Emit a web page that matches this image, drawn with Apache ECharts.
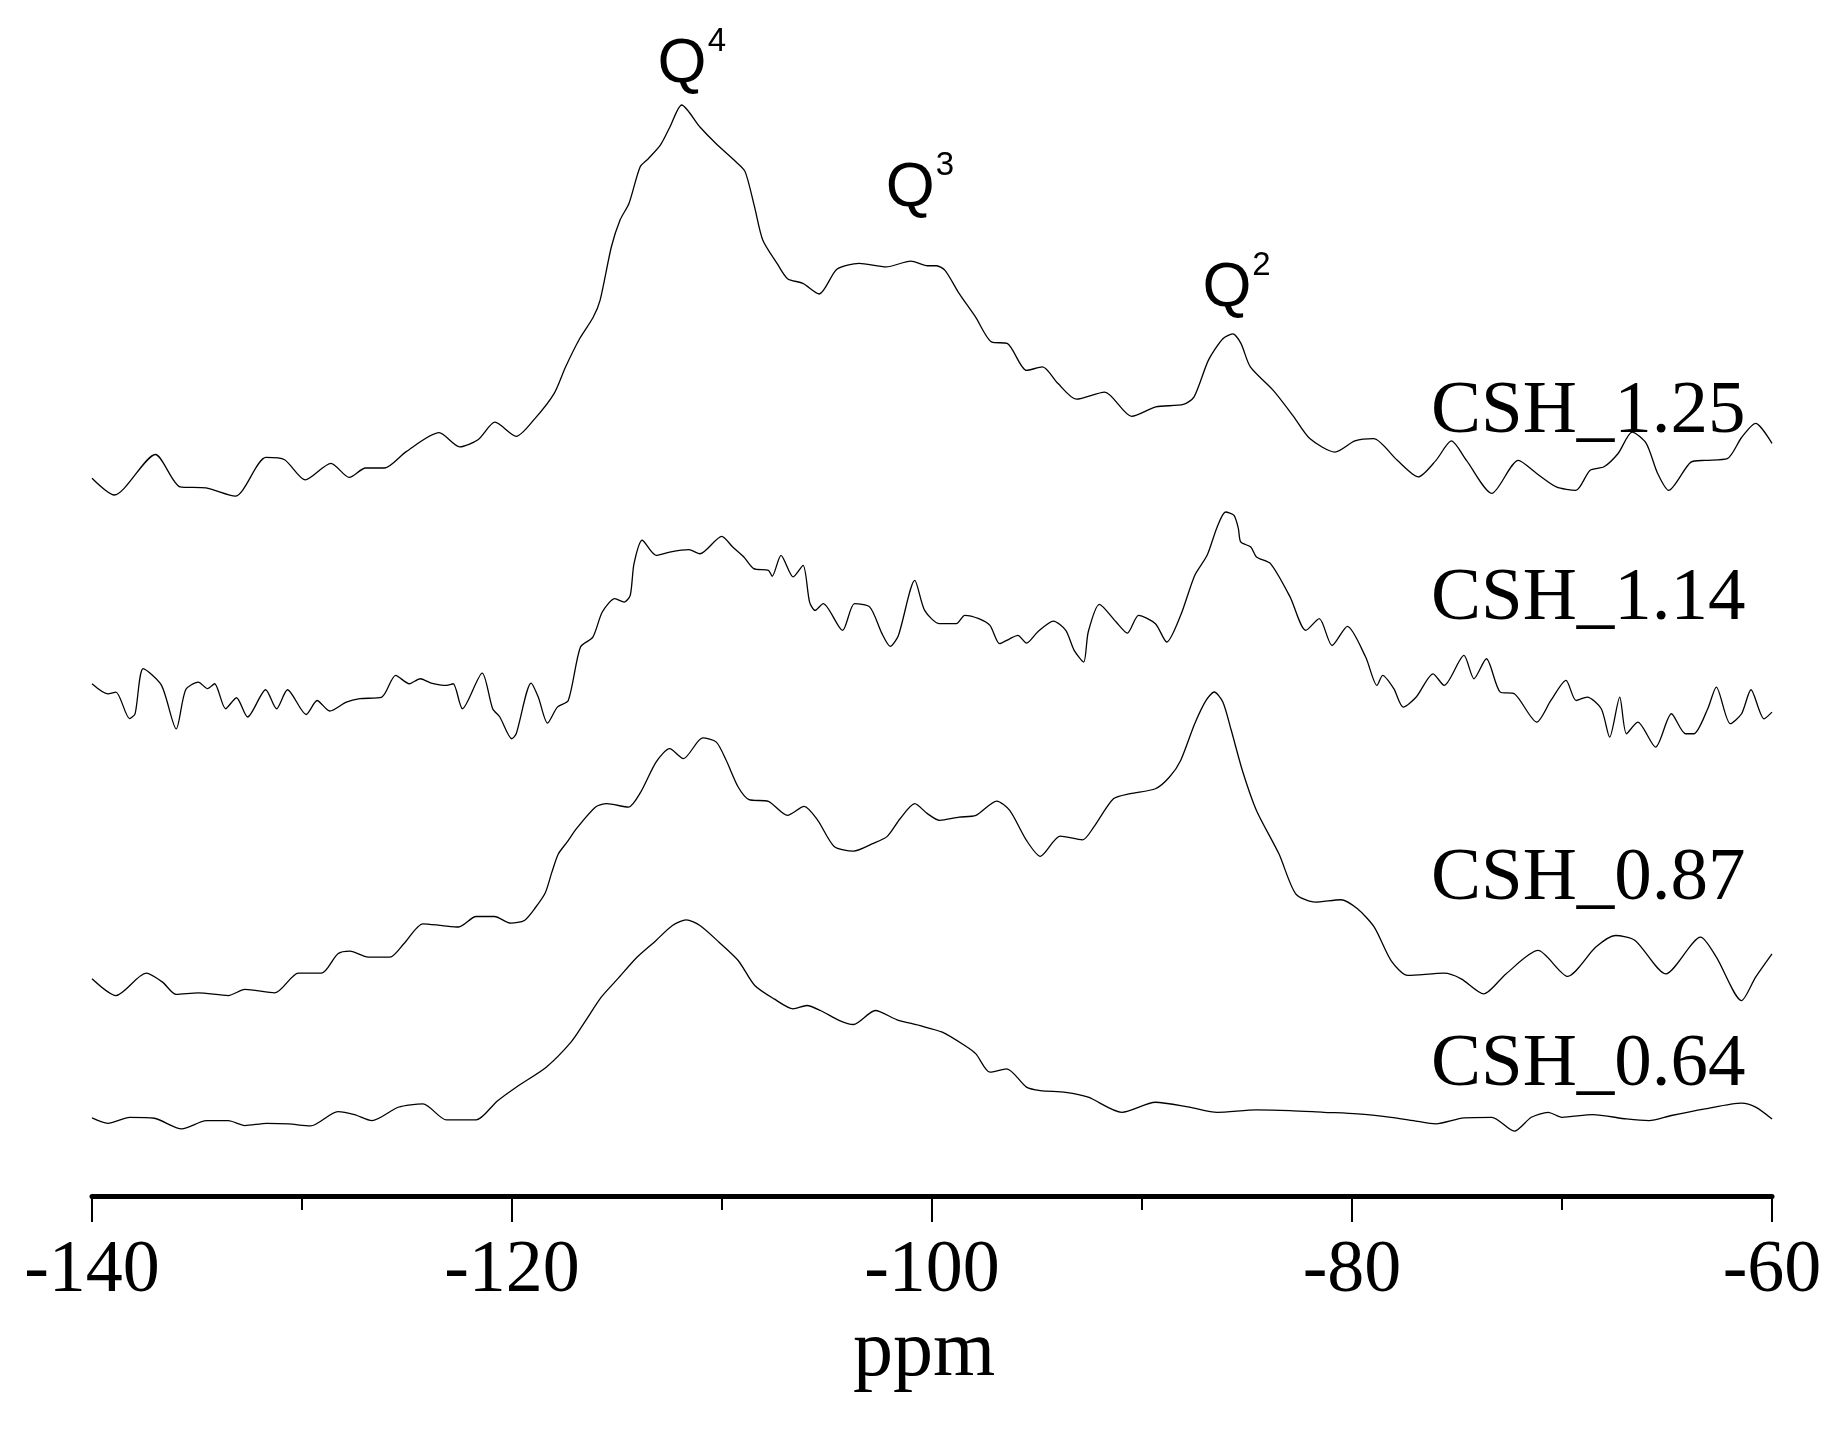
<!DOCTYPE html>
<html>
<head>
<meta charset="utf-8">
<title>29Si NMR spectra</title>
<script src="https://cdn.jsdelivr.net/npm/echarts@6/dist/echarts.min.js"></script>
<style>
html,body{margin:0;padding:0;background:#fff;}
#chart{width:1843px;height:1430px;}
</style>
</head>
<body>
<div id="chart"></div>
<script>
// x axis ticks (ppm)
const xTicks = { min: -140, max: -60, interval: 20 };

// vertical offsets of the stacked spectra
const seriesNames = ['CSH_1.25', 'CSH_1.14', 'CSH_0.87', 'CSH_0.64'];
const seriesOffsets = [59, 41, 17, 6];

// spectra: [ppm, intensity above own baseline]
const csh125 = [[-140.0,1.01],[-138.94,-0.39],[-136.98,3.00],[-135.80,0.29],[-134.57,0.20],[-133.18,-0.49],[-131.72,2.75],[-130.83,2.56],[-129.85,0.88],[-128.62,2.26],[-127.75,1.08],[-126.97,1.87],[-126.07,1.87],[-125.04,3.24],[-123.47,4.82],[-122.49,3.64],[-121.62,4.23],[-120.81,5.70],[-119.80,4.52],[-118.91,6.00],[-117.99,8.11],[-117.45,10.32],[-116.78,12.68],[-116.14,14.45],[-115.80,15.93],[-115.27,20.35],[-114.85,22.62],[-114.43,23.99],[-113.90,27.04],[-113.51,27.73],[-112.92,28.91],[-112.48,30.38],[-111.92,32.22],[-111.05,30.38],[-110.29,29.00],[-109.34,27.48],[-108.90,26.65],[-108.45,23.70],[-108.06,20.94],[-107.38,18.98],[-106.88,17.70],[-106.15,17.31],[-105.37,16.42],[-104.53,18.49],[-103.47,18.98],[-102.18,18.68],[-101.01,19.17],[-100.22,18.78],[-99.78,18.78],[-99.38,18.39],[-98.71,16.47],[-97.93,14.50],[-97.15,12.39],[-96.42,12.29],[-95.50,10.03],[-94.74,10.32],[-94.01,8.95],[-93.12,7.62],[-91.78,8.21],[-90.49,6.19],[-89.34,6.98],[-88.03,7.18],[-87.52,7.82],[-86.83,10.91],[-86.15,12.68],[-85.68,13.08],[-85.29,12.29],[-84.84,10.32],[-83.75,8.36],[-82.83,6.29],[-82.01,4.33],[-80.81,3.20],[-79.86,4.13],[-78.97,4.33],[-77.87,2.56],[-76.84,1.13],[-76.00,2.51],[-75.27,4.13],[-74.55,2.51],[-73.34,-0.25],[-72.08,2.51],[-71.22,1.43],[-70.27,0.29],[-69.34,0.00],[-68.67,1.67],[-68.00,1.97],[-67.33,3.08],[-66.66,4.87],[-65.99,3.93],[-65.45,1.43],[-64.92,0.00],[-63.86,2.36],[-63.19,2.51],[-62.13,2.65],[-61.45,4.42],[-60.78,5.60],[-60.0,3.93]];

const csh114 = [[-140.0,1.83],[-139.25,0.99],[-138.86,1.13],[-138.21,-1.08],[-137.95,-0.69],[-137.56,3.09],[-136.69,1.69],[-135.99,-1.94],[-135.54,1.33],[-134.94,1.97],[-134.50,1.42],[-134.16,1.83],[-133.64,-0.26],[-133.12,0.66],[-132.59,-0.95],[-131.73,1.33],[-131.21,-0.26],[-130.69,1.33],[-129.80,-0.74],[-129.28,0.43],[-128.68,-0.45],[-127.89,0.29],[-127.24,0.58],[-126.20,0.72],[-125.54,2.53],[-124.89,1.83],[-124.37,2.25],[-123.85,1.89],[-123.12,1.69],[-122.80,1.83],[-122.36,-0.26],[-121.42,2.72],[-120.92,-0.26],[-120.58,-0.95],[-120.01,-2.77],[-119.80,-2.35],[-119.09,1.89],[-118.75,0.72],[-118.31,-1.46],[-117.84,-0.12],[-117.32,0.43],[-116.74,4.90],[-116.15,5.73],[-115.70,7.83],[-115.10,8.94],[-114.66,8.66],[-114.37,9.22],[-114.19,11.87],[-113.80,13.83],[-113.14,12.57],[-112.49,12.84],[-111.58,13.04],[-111.05,12.70],[-110.01,14.16],[-109.49,13.26],[-108.96,12.43],[-108.49,11.46],[-107.79,11.31],[-107.61,10.82],[-107.19,12.57],[-106.61,10.76],[-106.14,11.73],[-105.83,8.66],[-105.57,7.96],[-105.18,8.53],[-104.26,6.29],[-103.69,8.53],[-102.96,8.24],[-102.38,6.02],[-101.99,4.96],[-101.60,5.87],[-100.82,10.47],[-100.35,7.96],[-99.64,6.85],[-98.84,6.85],[-98.44,7.55],[-97.77,7.27],[-97.24,6.71],[-96.78,5.18],[-96.30,5.59],[-95.91,5.87],[-95.50,5.23],[-94.97,6.16],[-94.22,7.07],[-93.63,6.29],[-93.23,4.62],[-92.78,3.64],[-92.56,6.16],[-92.03,8.47],[-91.23,6.99],[-90.70,6.07],[-90.16,7.55],[-89.36,6.85],[-88.82,5.32],[-88.16,7.55],[-87.49,10.89],[-86.90,12.57],[-86.42,14.94],[-86.02,16.19],[-85.62,15.91],[-85.41,14.80],[-85.30,13.69],[-84.82,13.26],[-84.55,12.43],[-83.88,11.87],[-82.95,9.09],[-82.20,6.29],[-81.56,7.27],[-80.95,5.03],[-80.22,6.63],[-79.35,4.06],[-78.81,1.69],[-78.54,2.53],[-78.01,1.42],[-77.56,-0.12],[-76.94,0.72],[-76.14,2.66],[-75.61,1.69],[-74.67,4.20],[-74.19,2.25],[-73.60,3.92],[-72.94,1.13],[-72.27,0.99],[-71.20,-1.38],[-70.53,0.43],[-69.81,2.11],[-69.33,0.43],[-68.80,0.72],[-68.13,-0.26],[-67.73,-2.64],[-67.25,0.72],[-66.93,-2.35],[-66.39,-1.38],[-65.54,-3.47],[-64.79,-0.68],[-64.12,-2.35],[-63.72,-2.35],[-63.06,-0.26],[-62.65,1.55],[-61.99,-1.51],[-61.45,-0.68],[-61.00,1.33],[-60.38,-1.10],[-60.0,-0.54]];

const csh087 = [[-140.0,1.16],[-138.86,-0.24],[-137.42,1.63],[-136.64,0.88],[-135.99,-0.15],[-134.94,-0.01],[-133.51,-0.24],[-132.72,0.27],[-131.29,-0.01],[-130.17,1.63],[-129.07,1.63],[-128.29,3.25],[-127.71,3.47],[-126.85,2.97],[-125.81,2.97],[-125.15,4.09],[-124.24,5.76],[-123.32,5.61],[-122.54,5.49],[-121.71,6.37],[-120.84,6.37],[-120.06,5.81],[-119.41,6.04],[-118.89,7.10],[-118.42,8.33],[-118.10,10.08],[-117.79,11.61],[-117.37,12.60],[-116.93,13.71],[-116.02,15.52],[-115.49,15.80],[-114.45,15.52],[-113.87,16.77],[-113.14,19.28],[-112.49,20.40],[-111.84,19.57],[-110.92,21.30],[-110.27,20.95],[-109.80,19.43],[-109.23,17.20],[-108.71,16.14],[-107.79,16.00],[-106.88,14.83],[-106.09,15.58],[-105.44,14.41],[-104.66,12.23],[-103.74,11.84],[-102.83,12.46],[-102.13,13.07],[-101.52,14.54],[-100.82,15.80],[-100.22,14.97],[-99.64,14.41],[-98.71,14.68],[-97.91,14.82],[-96.92,16.02],[-96.30,15.24],[-95.50,12.73],[-94.84,11.40],[-93.90,13.09],[-92.83,12.78],[-92.30,13.84],[-91.36,16.21],[-90.56,16.64],[-89.36,17.05],[-88.69,18.03],[-88.16,19.42],[-87.49,22.49],[-86.95,24.44],[-86.56,25.14],[-86.15,24.30],[-85.75,21.94],[-85.22,18.58],[-84.55,15.24],[-83.48,11.61],[-82.68,8.27],[-81.75,7.57],[-80.54,7.77],[-79.74,7.01],[-78.94,5.48],[-78.14,2.69],[-77.34,1.44],[-75.61,1.63],[-74.80,1.16],[-73.73,-0.10],[-72.67,1.57],[-71.14,3.53],[-69.73,1.36],[-68.39,3.81],[-67.46,4.78],[-66.52,4.37],[-65.06,1.57],[-63.40,4.64],[-62.65,2.97],[-61.45,-0.66],[-60.78,1.30],[-60.0,3.25]];

const csh064 = [[-140.0,0.53],[-139.25,0.08],[-138.20,0.58],[-137.03,0.50],[-135.73,-0.39],[-134.55,0.30],[-133.51,0.30],[-132.72,-0.11],[-131.68,0.08],[-130.64,0.03],[-129.59,-0.14],[-128.29,1.06],[-127.50,0.81],[-126.67,0.30],[-125.42,1.42],[-124.24,1.70],[-123.12,0.36],[-121.71,0.36],[-120.71,1.93],[-119.80,3.10],[-118.37,4.77],[-117.19,6.86],[-116.54,8.53],[-115.75,10.62],[-114.97,12.15],[-114.05,13.96],[-113.14,15.37],[-112.36,16.62],[-111.70,17.09],[-111.05,16.62],[-110.14,15.22],[-109.23,13.69],[-108.44,11.60],[-107.52,10.48],[-106.61,9.65],[-105.96,9.93],[-105.31,9.51],[-104.40,8.67],[-103.74,8.34],[-102.70,9.51],[-101.66,8.73],[-100.61,8.26],[-99.51,7.70],[-98.44,6.58],[-97.91,5.88],[-97.24,4.35],[-96.44,4.63],[-95.50,3.10],[-94.84,2.81],[-93.63,2.67],[-92.56,2.26],[-90.96,1.00],[-89.36,1.84],[-87.75,1.43],[-86.42,1.00],[-84.55,1.20],[-82.95,1.14],[-81.35,1.00],[-79.74,0.87],[-78.14,0.58],[-77.07,0.30],[-76.01,0.03],[-74.67,0.53],[-73.34,0.58],[-72.27,-0.58],[-71.46,0.58],[-70.66,1.00],[-70.00,0.58],[-68.53,0.81],[-66.93,0.44],[-65.86,0.30],[-64.79,0.73],[-63.18,1.28],[-61.45,1.76],[-60.78,1.43],[-60.0,0.44]];

const spectra = [csh125, csh114, csh087, csh064];

// sample labels [ppm, height]
const sampleLabelPos = [[-76.24, 65.5], [-76.24, 49.9], [-76.24, 26.5], [-76.24, 10.9]];

// peak annotations
const peakNames = ['Q', 'Q', 'Q'];
const peakPos = [[-111.90, 94.6], [-101.04, 84.2], [-85.95, 75.9]];
const peakSup = ['4', '3', '2'];
const peakSupPos = [[-110.24, 96.5], [-99.38, 86.1], [-84.31, 77.8]];

const serif = 'Liberation Serif';
const sans = 'Liberation Sans';

const lineSeries = spectra.map(function (sp, i) {
  return {
    name: seriesNames[i],
    type: 'line',
    showSymbol: false,
    symbol: 'none',
    smooth: 0.25,
    clip: false,
    lineStyle: { color: '#000', width: 1.3 },
    data: sp.map(function (p) { return [p[0], p[1] + seriesOffsets[i]]; })
  };
});

function textSeries(names, positions, font, size, pos, align) {
  return {
    type: 'scatter',
    symbolSize: 0,
    clip: false,
    silent: true,
    itemStyle: { color: '#000', opacity: 1 },
    data: positions.map(function (p, i) { return { name: names[i], value: p }; }),
    label: {
      show: true, position: pos, distance: 0, align: align, verticalAlign: 'middle',
      formatter: function (d) { return d.name; },
      fontFamily: font, fontSize: size, color: '#000', opacity: 1,
      textBorderWidth: 0
    }
  };
}

const chart = echarts.init(document.getElementById('chart'), null, { renderer: 'canvas' });
chart.setOption({
  animation: false,
  backgroundColor: '#fff',
  grid: { left: 92, right: 71, top: 0, bottom: 234, containLabel: false },
  xAxis: {
    type: 'value',
    min: xTicks.min, max: xTicks.max, interval: xTicks.interval,
    name: 'ppm', nameLocation: 'middle', nameGap: 116,
    nameTextStyle: { fontFamily: serif, fontSize: 80, color: '#000', padding: [0, 16, 0, 0] },
    axisLine: { show: true, onZero: false, lineStyle: { color: '#000', width: 5 } },
    axisTick: { show: true, length: 26, lineStyle: { color: '#000', width: 2 } },
    minorTick: { show: true, splitNumber: 2, length: 14, lineStyle: { color: '#000', width: 2 } },
    axisLabel: { fontFamily: serif, fontSize: 74, color: '#000', margin: 39 },
    splitLine: { show: false },
    minorSplitLine: { show: false }
  },
  yAxis: { type: 'value', min: 0, max: 100, show: false },
  series: lineSeries.concat([
    textSeries(seriesNames, sampleLabelPos, serif, 75, 'right', 'left'),
    textSeries(peakNames, peakPos, sans, 63, 'inside', 'center'),
    textSeries(peakSup, peakSupPos, sans, 33, 'inside', 'center')
  ])
});
</script>
</body>
</html>
